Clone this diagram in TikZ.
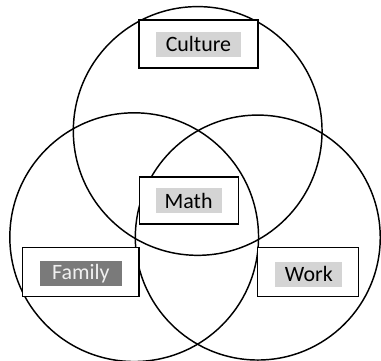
\documentclass[tikz,border=0pt]{standalone}
\usepackage{fontspec}
\setmainfont{Carlito}
\usepackage{tikz}
\definecolor{hilite}{RGB}{212, 212, 212}
\definecolor{hilitedark}{RGB}{122, 122, 122}

\begin{document}
\begin{tikzpicture}[
    set/.style={line width=1.1pt},
    setbox/.style={draw, line width=0.9pt, fill=white, inner sep=0pt},
    tag/.style={fill=hilite, inner sep=0pt, minimum height=0.66cm, font=\fontsize{16.5}{19}\selectfont}
]
    \useasboundingbox (0,0) rectangle (10.08,9.525);

    % Sets
    \draw[set] (5.23,6.06) circle (3.29);
    \draw[set] (3.55,3.25) circle (3.29);
    \draw[set] (6.82,3.24) circle (3.24);

    % Label boxes
    \node[setbox, minimum width=3.15cm, minimum height=1.27cm] (culture) at (5.25,8.36) {};
    \node[setbox, minimum width=2.62cm, minimum height=1.24cm] (math) at (4.99,4.22) {};
    \node[setbox, minimum width=3.07cm, minimum height=1.30cm] (family) at (2.14,2.32) {};
    \node[setbox, minimum width=2.67cm, minimum height=1.30cm] (work) at (8.14,2.32) {};

    % Highlighted names
    \node[tag, minimum width=2.25cm] (culture-tag) at (culture) {Culture};
    \node[tag, minimum width=1.75cm] (math-tag) at (math) {Math};
    \node[tag, minimum width=2.17cm, fill=hilitedark, text=white!88!gray] (family-tag) at ([yshift=-0.03cm]family) {Family};
    \node[tag, minimum width=1.77cm] (work-tag) at ([xshift=0.03cm, yshift=-0.05cm]work) {Work};
\end{tikzpicture}
\end{document}
